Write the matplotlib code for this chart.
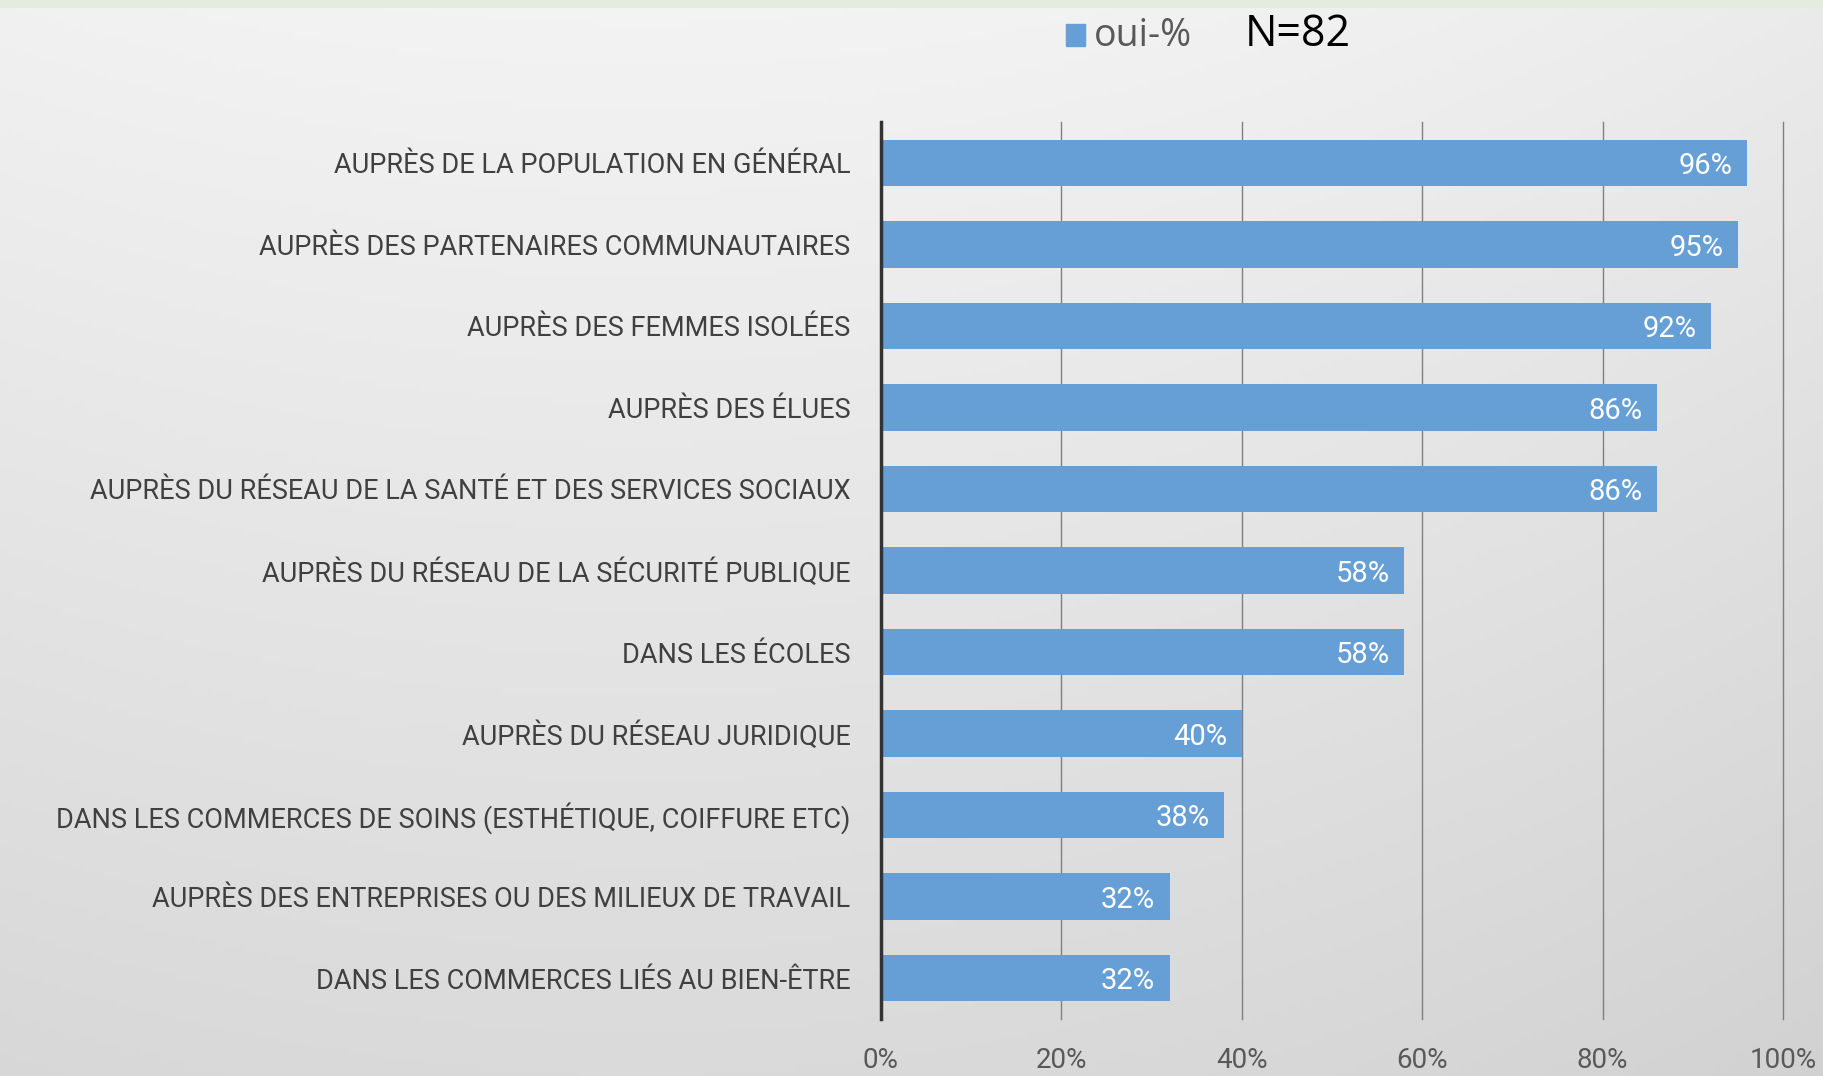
import numpy as np
import matplotlib
matplotlib.use("Agg")
import matplotlib.pyplot as plt
from matplotlib.patches import Rectangle

categories = [
    "AUPRÈS DE LA POPULATION EN GÉNÉRAL",
    "AUPRÈS DES PARTENAIRES COMMUNAUTAIRES",
    "AUPRÈS DES FEMMES ISOLÉES",
    "AUPRÈS DES ÉLUES",
    "AUPRÈS DU RÉSEAU DE LA SANTÉ ET DES SERVICES SOCIAUX",
    "AUPRÈS DU RÉSEAU DE LA SÉCURITÉ PUBLIQUE",
    "DANS LES ÉCOLES",
    "AUPRÈS DU RÉSEAU JURIDIQUE",
    "DANS LES COMMERCES DE SOINS (ESTHÉTIQUE, COIFFURE ETC)",
    "AUPRÈS DES ENTREPRISES OU DES MILIEUX DE TRAVAIL",
    "DANS LES COMMERCES LIÉS AU BIEN-ÊTRE",
]
values = [96, 95, 92, 86, 86, 58, 58, 40, 38, 32, 32]
xticks = [0, 20, 40, 60, 80, 100]
xticklabels = ["0%", "20%", "40%", "60%", "80%", "100%"]
series_name = "oui-%"
note = "N=82"

W, H = 1824, 1076
fig = plt.figure(figsize=(W / 100, H / 100), dpi=100)

# background gradient
yy, xx = np.mgrid[0:1:200j, 0:1:300j]
g = 0.955 - 0.10 * yy - 0.08 * (xx - 0.35) ** 2
bg_ax = fig.add_axes([0, 0, 1, 1], zorder=-10)
bg_ax.imshow(np.dstack([g, g, g]), aspect="auto", extent=[0, 1, 0, 1], origin="upper")
bg_ax.set_xlim(0, 1)
bg_ax.set_ylim(0, 1)
bg_ax.add_patch(Rectangle((0, 1 - 8 / H), 1, 8 / H, color="#e4ebdf", lw=0))
bg_ax.axis("off")

lab_font = ["Roboto", "DejaVu Sans"]

ax = fig.add_axes([881 / W, 1 - 1019 / H, (1783 - 881) / W, (1019 - 122) / H])
ax.patch.set_alpha(0)
n = len(categories)
ypos = np.arange(n)
bar_color = "#659fd6"
bars = ax.barh(ypos, values, height=0.57, color=bar_color, zorder=3)
ax.set_xlim(0, 100)
ax.set_ylim(n - 0.5, -0.5)
ax.set_yticks(ypos)
ax.set_yticklabels(categories, fontsize=19.5, color="#404040", family=lab_font)
ax.set_xticks(xticks)
ax.set_xticklabels(xticklabels, fontsize=20, color="#595959", family=lab_font)
ax.tick_params(axis="y", length=0, pad=22)
ax.tick_params(axis="x", length=0, pad=20)
for s in ["top", "right", "bottom"]:
    ax.spines[s].set_visible(False)
ax.spines["left"].set_color("#333333")
ax.spines["left"].set_linewidth(2.5)
ax.spines["left"].set_zorder(5)
ax.grid(axis="x", color="#7f7f7f", linewidth=1.0, zorder=1)
for gl in ax.get_xgridlines():
    gl.set_clip_on(False)
ax.set_axisbelow(True)

for b, v in zip(bars, values):
    ax.text(v - 1.6, b.get_y() + b.get_height() / 2 + 0.04, f"{v}%", ha="right", va="center",
            color="white", fontsize=21, family=lab_font, zorder=4)

# legend
fig.patches.append(Rectangle((1066 / W, 1 - 46 / H), 19 / W, 22 / H, color=bar_color,
                             transform=fig.transFigure, figure=fig))
fig.text(1094 / W, 1 - 36 / H, series_name, fontsize=27, color="#595959",
         family=["Open Sans", "DejaVu Sans"], va="center", ha="left")
fig.text(1245 / W, 1 - 35 / H, note, fontsize=31, color="black",
         family=["Open Sans", "DejaVu Sans"], va="center", ha="left")

fig.savefig("out.png", dpi=100)
